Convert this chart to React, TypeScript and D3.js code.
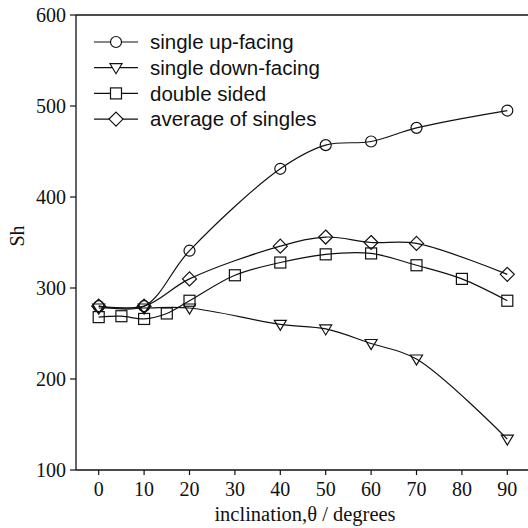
import React from 'react';
import * as d3 from 'd3';

// inclination angles and Sh values
const angles = [0, 10, 20, 40, 50, 60, 70, 90];
const upFacing = [280, 280, 341, 431, 457, 461, 476, 495];
const downFacing = [278, 278, 278, 260, 255, 239, 222, 134];
const avgSingles = [280, 280, 310, 346, 356, 350, 349, 315];
const doubleAngles = [0, 5, 10, 15, 20, 30, 40, 50, 60, 70, 80, 90];
const doubleSided = [268, 269, 266, 272, 286, 314, 328, 337, 338, 325, 310, 286];

const xTicks = [0, 10, 20, 30, 40, 50, 60, 70, 80, 90];
const yTicks = [100, 200, 300, 400, 500, 600];

const legendNames = ['single up-facing', 'single down-facing', 'double sided', 'average of singles'];

const W = 528;
const H = 528;
const ink = '#111';

type Pt = [number, number];

function Marker({ kind, x, y, bg }: { kind: string; x: number; y: number; bg?: boolean }) {
  const s = { fill: bg ? 'white' : 'none', stroke: ink, strokeWidth: 1.2 };
  if (kind === 'circle') return <circle cx={x} cy={y} r={5.5} {...s} />;
  if (kind === 'square') return <rect x={x - 5.5} y={y - 5.5} width={11} height={11} {...s} />;
  if (kind === 'diamond')
    return <path d={`M${x},${y - 7}L${x + 7},${y}L${x},${y + 7}L${x - 7},${y}Z`} {...s} />;
  // down triangle
  return <path d={`M${x - 6},${y - 4}L${x + 6},${y - 4}L${x},${y + 6}Z`} {...s} />;
}

export default function App() {
  const x = d3.scaleLinear().domain([-5, 95]).range([76, 530]);
  const y = d3.scaleLinear().domain([100, 600]).range([470, 15]);

  const line = d3
    .line<Pt>()
    .x((d) => x(d[0]))
    .y((d) => y(d[1]))
    .curve(d3.curveCatmullRom.alpha(0.5));

  const series = [
    { kind: 'circle', pts: angles.map((a, i) => [a, upFacing[i]] as Pt) },
    { kind: 'triangle', pts: angles.map((a, i) => [a, downFacing[i]] as Pt) },
    { kind: 'square', pts: doubleAngles.map((a, i) => [a, doubleSided[i]] as Pt) },
    { kind: 'diamond', pts: angles.map((a, i) => [a, avgSingles[i]] as Pt) },
  ];

  const serif = '"Liberation Serif", "DejaVu Serif", serif';
  const sans = '"Liberation Sans", Arial, sans-serif';

  return (
    <svg width={W} height={H} style={{ position: 'absolute', left: 0, top: 0, background: 'white' }}>
      {/* frame */}
      <line x1={76} x2={530} y1={15} y2={15} stroke={ink} strokeWidth={1.3} />
      <line x1={76} x2={76} y1={15} y2={470} stroke={ink} strokeWidth={1.3} />
      <line x1={76} x2={530} y1={470} y2={470} stroke={ink} strokeWidth={1.3} />

      {yTicks.map((t) => (
        <g key={t}>
          <line x1={70} x2={76} y1={y(t)} y2={y(t)} stroke={ink} strokeWidth={1.2} />
          <text x={66} y={y(t)} dy="0.35em" textAnchor="end" fontFamily={serif} fontSize={20} fill={ink}>
            {t}
          </text>
        </g>
      ))}
      {xTicks.map((t) => (
        <g key={t}>
          <line x1={x(t)} x2={x(t)} y1={470} y2={475} stroke={ink} strokeWidth={1.2} />
          <text x={x(t)} y={489} dy="0.35em" textAnchor="middle" fontFamily={serif} fontSize={20} fill={ink}>
            {t}
          </text>
        </g>
      ))}

      <text
        transform="translate(17,236) rotate(-90)"
        dy="0.35em"
        textAnchor="middle"
        fontFamily={serif}
        fontSize={20}
        fill={ink}
      >
        Sh
      </text>
      <text x={305} y={514} dy="0.35em" textAnchor="middle" fontFamily={serif} fontSize={20.5} fill={ink}>
        inclination,θ / degrees
      </text>

      {series.map((s) => (
        <path key={s.kind} d={line(s.pts) || ''} fill="none" stroke={ink} strokeWidth={1.2} />
      ))}
      {series.map((s) =>
        s.pts.map((p, i) => <Marker key={s.kind + i} kind={s.kind} x={x(p[0])} y={y(p[1])} />)
      )}

      {/* legend */}
      {series.map((s, i) => {
        const ly = 42 + i * 25.7;
        return (
          <g key={'lg' + i}>
            <line x1={94} x2={138} y1={ly} y2={ly} stroke={ink} strokeWidth={1.2} />
            <Marker kind={s.kind} x={116} y={ly} bg />
            <text x={150} y={ly} dy="0.35em" fontFamily={sans} fontSize={20.5} fill={ink}>
              {legendNames[i]}
            </text>
          </g>
        );
      })}
    </svg>
  );
}
